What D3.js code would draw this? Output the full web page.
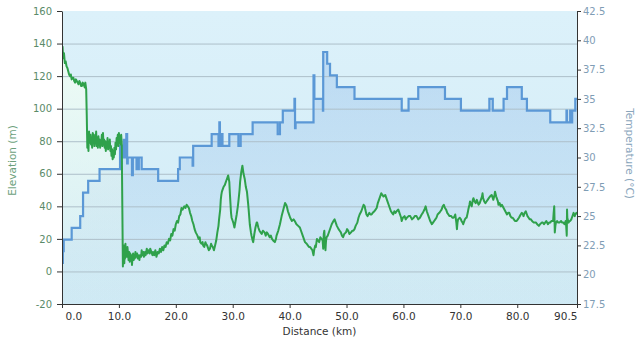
<!DOCTYPE html>
<html><head><meta charset="utf-8">
<script src="https://cdn.jsdelivr.net/npm/d3@7"></script>
<style>
body{margin:0;background:#fff}
svg{display:block}
text{font-family:"DejaVu Sans",Verdana,sans-serif}
</style>
</head><body>
<svg id="c" width="640" height="350"></svg>
<script>
// ---------- data ----------
const distanceTicks = [0, 10, 20, 30, 40, 50, 60, 70, 80, 90.5];
const elevationTicks = [-20, 0, 20, 40, 60, 80, 100, 120, 140, 160];
const temperatureTicks = [17.5, 20, 22.5, 25, 27.5, 30, 32.5, 35, 37.5, 40, 42.5];

// [distance km, elevation m]
const elevation = [
[0,130],[0.1,138],[0.2,131],[0.35,134],[0.5,128],[0.65,129],[0.8,126],[0.95,125],[1.1,123],[1.25,121],
[1.4,120],[1.55,121],[1.7,118],[1.85,119],[2.0,119],[2.15,117],[2.3,116],[2.45,118],[2.6,117],[2.75,116],
[2.9,115],[3.05,117],[3.2,116],[3.35,114],[3.5,114],[3.65,116],[3.8,115],[4.0,113],[4.1,116],[4.25,112],
[4.35,96],[4.45,76],[4.55,82],[4.65,74],[4.75,86],[4.85,79],[5.0,84],[5.1,78],[5.2,82],[5.3,76],
[5.4,85],[5.5,79],[5.6,84],[5.7,77],[5.8,81],[5.9,79],[6.0,86],[6.1,77],[6.2,82],[6.3,76],
[6.4,83],[6.5,78],[6.6,81],[6.7,76],[6.8,80],[6.9,78],[7.0,84],[7.1,77],[7.2,85],[7.3,78],
[7.4,81],[7.5,76],[7.6,80],[7.7,74],[7.8,79],[7.9,77],[8.0,82],[8.1,75],[8.2,79],[8.3,76],
[8.4,81],[8.5,74],[8.6,77],[8.7,71],[8.8,75],[8.9,69],[9.0,74],[9.1,70],[9.2,76],[9.3,72],
[9.4,79],[9.5,75],[9.6,82],[9.7,78],[9.8,84],[9.9,77],[10.0,85],[10.1,79],[10.2,83],[10.3,78],
[10.4,84],[10.5,78],[10.6,40],[10.7,3],[10.75,10],[10.8,7],[10.9,16],[10.95,5],[11.0,14],[11.1,8],
[11.15,17],[11.2,10],[11.3,13],[11.4,9],[11.5,15],[11.6,11],[11.7,7],[11.8,12],[11.9,6],[12.0,11],
[12.1,8],[12.2,10],[12.3,4],[12.4,9],[12.5,11],[12.6,7],[12.7,10],[12.8,8],[12.9,12],[13.0,9],
[13.2,11],[13.3,8],[13.4,10],[13.6,7],[13.7,10],[13.9,9],[14.0,13],[14.1,10],[14.3,12],[14.4,9],
[14.6,12],[14.7,10],[14.9,14],[15.0,11],[15.2,13],[15.4,11],[15.5,14],[15.7,12],[15.9,10],[16.0,12],
[16.2,10],[16.4,13],[16.6,9],[16.8,12],[17.0,11],[17.2,14],[17.4,12],[17.6,15],[17.8,13],[18.0,16],
[18.2,15],[18.4,18],[18.6,17],[18.8,20],[19.0,19],[19.2,23],[19.4,22],[19.6,26],[19.8,25],[20.0,29],
[20.2,31],[20.4,30],[20.6,34],[20.8,35],[21.0,39],[21.2,38],[21.5,40],[21.7,39],[21.9,41],[22.1,40],
[22.3,39],[22.5,36],[22.7,34],[22.9,31],[23.1,29],[23.3,26],[23.5,24],[23.8,22],[24.0,20],[24.2,21],
[24.3,18],[24.5,17],[24.7,18],[24.8,16],[25.0,15],[25.2,18],[25.3,17],[25.5,16],[25.7,14],[25.8,13],
[26.0,14],[26.2,17],[26.3,16],[26.5,15],[26.7,13],[26.9,16],[27.1,19],[27.3,24],[27.5,28],[27.6,32],
[27.8,38],[27.9,44],[28.0,47],[28.1,49],[28.3,51],[28.4,52],[28.6,53],[28.8,55],[28.9,56],[29.1,58],
[29.2,59],[29.3,57],[29.4,55],[29.5,48],[29.6,42],[29.7,36],[29.8,33],[30.0,31],[30.1,30],[30.3,27],
[30.4,29],[30.6,33],[30.7,35],[30.9,40],[31.0,43],[31.2,50],[31.3,55],[31.5,61],[31.7,65],[31.9,60],
[32.1,57],[32.3,52],[32.5,49],[32.7,42],[32.8,38],[33.0,29],[33.2,24],[33.3,22],[33.5,19],[33.6,18],
[33.8,23],[34.0,27],[34.2,30],[34.3,30],[34.5,27],[34.7,25],[34.9,24],[35.1,23],[35.3,25],[35.6,24],
[35.8,22],[36.0,24],[36.2,23],[36.5,21],[36.7,22],[36.9,20],[37.1,19],[37.4,18],[37.6,20],[37.7,22],
[37.9,24],[38.0,25],[38.3,29],[38.6,34],[38.9,38],[39.2,42],[39.4,41],[39.5,40],[39.7,37],[39.8,36],
[40.1,33],[40.4,31],[40.7,32],[40.9,31],[41.2,29],[41.5,28],[41.8,27],[42.0,25],[42.3,22],[42.5,20],
[42.7,18],[43.0,17],[43.2,16],[43.4,15],[43.6,15],[43.8,14],[44.0,13],[44.2,10],[44.3,13],[44.5,16],
[44.6,15],[44.8,20],[45.0,19],[45.2,18],[45.4,21],[45.6,20],[45.8,19],[45.9,14],[46.0,23],[46.1,25],
[46.2,17],[46.3,13],[46.4,19],[46.5,21],[46.7,22],[46.8,23],[47.0,25],[47.2,27],[47.4,29],[47.7,31],
[47.9,32],[48.1,30],[48.3,28],[48.6,26],[48.8,25],[49.0,24],[49.2,22],[49.4,21],[49.6,23],[49.9,24],
[50.1,26],[50.3,25],[50.5,23],[50.8,24],[51.0,25],[51.2,25],[51.4,26],[51.6,28],[51.9,30],[52.1,33],
[52.3,35],[52.6,37],[52.8,39],[53.0,41],[53.2,40],[53.3,38],[53.5,35],[53.7,34],[54.0,36],[54.2,35],
[54.4,35],[54.6,36],[54.9,37],[55.1,38],[55.3,39],[55.5,42],[55.7,44],[55.9,46],[56.1,48],[56.3,47],
[56.5,46],[56.8,47],[57.0,45],[57.1,44],[57.4,41],[57.6,39],[57.8,37],[58.0,36],[58.2,35],[58.4,37],
[58.6,36],[58.8,37],[59.1,38],[59.3,36],[59.4,35],[59.6,33],[59.7,31],[59.9,33],[60.2,34],[60.4,32],
[60.6,33],[60.9,34],[61.2,34],[61.5,32],[61.8,33],[62.0,34],[62.3,34],[62.6,32],[62.9,33],[63.2,35],
[63.4,36],[63.7,38],[63.9,40],[64.1,37],[64.4,34],[64.7,31],[65.0,29],[65.2,30],[65.4,31],[65.6,32],
[65.8,33],[66.0,35],[66.3,36],[66.5,37],[66.7,38],[66.9,40],[67.1,41],[67.3,39],[67.5,38],[67.7,36],
[67.9,35],[68.1,34],[68.4,34],[68.6,33],[68.8,33],[69.0,34],[69.1,35],[69.3,30],[69.4,26],[69.5,30],
[69.6,32],[69.9,33],[70.1,32],[70.2,31],[70.4,30],[70.5,29],[70.7,31],[70.8,32],[71.0,33],[71.1,33],
[71.3,36],[71.4,38],[71.6,41],[71.7,43],[71.9,41],[72.0,40],[72.2,44],[72.3,45],[72.5,43],[72.7,42],
[72.9,44],[73.2,41],[73.4,42],[73.6,44],[73.8,46],[73.9,48],[74.0,45],[74.2,43],[74.4,42],[74.6,43],
[74.8,44],[75.0,45],[75.2,46],[75.5,47],[75.7,45],[75.8,44],[76.0,47],[76.1,49],[76.3,46],[76.4,45],
[76.6,43],[76.7,41],[76.9,42],[77.1,40],[77.3,41],[77.6,39],[77.9,37],[78.2,35],[78.4,36],[78.6,36],
[78.8,34],[79.0,33],[79.2,33],[79.4,32],[79.6,31],[79.9,31],[80.1,32],[80.3,33],[80.6,35],[80.8,36],
[81.0,35],[81.1,34],[81.3,36],[81.5,37],[81.7,35],[81.8,34],[82.0,33],[82.2,32],[82.4,32],[82.6,31],
[82.9,30],[83.1,30],[83.3,30],[83.5,29],[83.8,28],[84.0,29],[84.3,30],[84.5,30],[84.7,29],[84.9,30],
[85.1,31],[85.4,29],[85.6,30],[85.8,30],[86.0,31],[86.3,31],[86.4,36],[86.5,40],[86.6,24],[86.7,28],
[86.8,30],[87.0,31],[87.2,30],[87.4,30],[87.7,31],[87.9,30],[88.1,30],[88.3,29],[88.5,31],[88.6,28],
[88.7,22],[88.75,38],[88.8,33],[89.0,30],[89.2,31],[89.3,31],[89.5,32],[89.6,33],[89.8,35],[89.9,36],
[90.1,34],[90.2,35],[90.4,36],[90.5,35]
];

// [distance km, temperature °C] (step starts)
const temperature = [
[0,21],[0.15,22],[0.3,23],[1.7,24],[3.2,25],[3.7,27],[4.6,28],[6.6,29],[10.2,31],[10.35,29.5],
[10.45,31],[10.7,30],[10.85,31.5],[11.0,30],[11.3,32],[11.45,29.5],[11.55,30],[12.3,28.5],[12.45,30],[13.1,29],
[13.2,30],[13.35,29],[13.5,30],[14.0,29],[16.9,28],[20.4,29],[20.7,30],[22.95,29.3],[23.05,31],[26.3,32],
[27.5,31],[27.6,32],[27.65,33],[27.75,31.5],[27.85,32],[27.95,31],[28.05,32],[28.2,31],[29.4,32],[31.0,31],
[31.4,32],[33.5,33],[37.9,32],[38.3,33],[38.8,34],[40.85,35],[40.95,32.5],[41.05,33],[44.2,37],[44.35,35],
[45.85,34],[45.9,39],[46.6,38],[47.1,37],[48.3,36],[51.4,35],[59.7,34],[60.9,35],[62.6,36],[67.3,35],
[70.1,34],[75.1,35],[75.7,34],[77.6,35],[78.2,36],[80.8,35],[81.7,34],[85.8,33],[88.65,34],[88.75,33],
[89.3,34],[89.45,33],[89.65,34],[90.2,35],[90.5,35]
];

// ---------- layout ----------
const L = 62, R = 577, T = 11, B = 304;
const svg = d3.select("#c");

const x = d3.scaleLinear().domain([0, 90.5]).range([L, R]);
const yL = d3.scaleLinear().domain([-20, 160]).range([B, T]);
const yR = d3.scaleLinear().domain([17.5, 42.5]).range([B, T]);

const defs = svg.append("defs");
const bg = defs.append("linearGradient").attr("id", "bg").attr("x1", 0).attr("y1", 0).attr("x2", 0).attr("y2", 1);
bg.append("stop").attr("offset", "0%").attr("stop-color", "#dcf1fa");
bg.append("stop").attr("offset", "100%").attr("stop-color", "#d2ecf6");

const tg = defs.append("linearGradient").attr("id", "tg").attr("gradientUnits", "userSpaceOnUse")
  .attr("x1", 0).attr("y1", T).attr("x2", 0).attr("y2", B);
tg.append("stop").attr("offset", "0%").attr("stop-color", "#6a9fe0").attr("stop-opacity", 0.3);
tg.append("stop").attr("offset", "100%").attr("stop-color", "#6a9fe0").attr("stop-opacity", 0.05);

const eg = defs.append("linearGradient").attr("id", "eg").attr("gradientUnits", "userSpaceOnUse")
  .attr("x1", 0).attr("y1", T).attr("x2", 0).attr("y2", B);
eg.append("stop").attr("offset", "0%").attr("stop-color", "#f4fff4").attr("stop-opacity", 0.9);
eg.append("stop").attr("offset", "100%").attr("stop-color", "#eafaee").attr("stop-opacity", 0.08);

defs.append("clipPath").attr("id", "clip").append("rect")
  .attr("x", L).attr("y", T).attr("width", R - L).attr("height", B - T);

svg.append("rect").attr("x", L).attr("y", T).attr("width", R - L).attr("height", B - T).attr("fill", "url(#bg)");

const plot = svg.append("g").attr("clip-path", "url(#clip)");

// fills
plot.append("path").datum(temperature)
  .attr("fill", "url(#tg)")
  .attr("d", d3.area().curve(d3.curveStepAfter).x(d => x(d[0])).y0(B).y1(d => yR(d[1])));
plot.append("path").datum(elevation)
  .attr("fill", "url(#eg)")
  .attr("d", d3.area().x(d => x(d[0])).y0(B).y1(d => yL(d[1])));

// gridlines
plot.append("g").selectAll("line").data(elevationTicks.filter(v => v > -20 && v < 160)).join("line")
  .attr("x1", L).attr("x2", R).attr("y1", d => yL(d) + 0.5).attr("y2", d => yL(d) + 0.5)
  .attr("stroke", "#aebfc9").attr("stroke-width", 1);

// lines
plot.append("path").datum(temperature)
  .attr("fill", "none").attr("stroke", "#5b98d6").attr("stroke-width", 2.2)
  .attr("d", d3.line().curve(d3.curveStepAfter).x(d => x(d[0])).y(d => yR(d[1])));
plot.append("path").datum(elevation)
  .attr("fill", "none").attr("stroke", "#2fa14b").attr("stroke-width", 2).attr("stroke-linejoin", "round")
  .attr("d", d3.line().x(d => x(d[0])).y(d => yL(d[1])));

// axes
const axL = svg.append("g").attr("transform", `translate(${L},0)`)
  .call(d3.axisLeft(yL).tickValues(elevationTicks).tickSize(5).tickPadding(5).tickSizeOuter(0).tickFormat(d => d));
axL.selectAll("text").attr("fill", "#5a8a69").style("font-size", "10px");

const axR = svg.append("g").attr("transform", `translate(${R},0)`)
  .call(d3.axisRight(yR).tickValues(temperatureTicks).tickSize(4).tickPadding(2).tickSizeOuter(0).tickFormat(d => String(d)));
axR.selectAll("text").attr("fill", "#7f9db5").style("font-size", "10px");

const axB = svg.append("g").attr("transform", `translate(0,${B})`)
  .call(d3.axisBottom(x).tickValues(distanceTicks).tickSize(4).tickPadding(5).tickSizeOuter(0).tickFormat(d => d.toFixed(1)));
axB.selectAll("text").attr("fill", "#333").style("font-size", "10.5px");
axB.selectAll(".tick").filter(d => d === 0).select("text").attr("text-anchor", "start").attr("x", 3);
axB.selectAll(".tick").filter(d => d === 90.5).select("text").attr("text-anchor", "end").attr("x", 0);

[axL, axR, axB].forEach(a => {
  a.select(".domain").attr("stroke", "#333");
  a.selectAll(".tick line").attr("stroke", "#333");
  a.attr("font-family", null);
});

// titles
svg.append("text").attr("x", (L + R) / 2).attr("y", 335).attr("text-anchor", "middle")
  .attr("fill", "#333").style("font-size", "10.5px").text("Distance (km)");
svg.append("text").attr("transform", `translate(16,${(T + B) / 2 + 3}) rotate(-90)`).attr("text-anchor", "middle")
  .attr("fill", "#6c9f7c").style("font-size", "10.5px").text("Elevation (m)");
svg.append("text").attr("transform", `translate(626,${(T + B) / 2 - 4}) rotate(90)`).attr("text-anchor", "middle")
  .attr("fill", "#8aa6bc").style("font-size", "10.5px").text("Temperature (°C)");
</script>
</body></html>
